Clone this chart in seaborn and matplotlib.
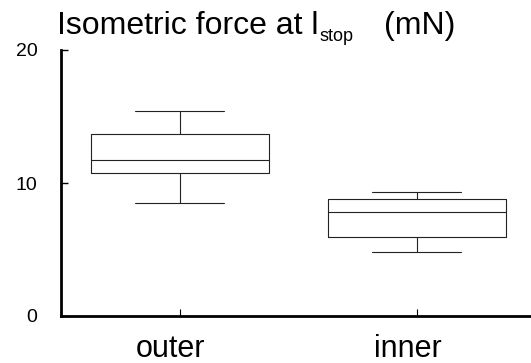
import numpy as np
import pandas as pd
import matplotlib
matplotlib.use("Agg")
import matplotlib.pyplot as plt
import matplotlib.transforms as mtransforms
import seaborn as sns

# values: low whisker, Q1, median, Q3, high whisker
groups = ["outer", "inner"]
outer_force = [8.47, 10.73, 11.73, 13.66, 15.44]
inner_force = [4.79, 5.92, 7.79, 8.77, 9.29]
y_ticks = [0, 10, 20]

df = pd.DataFrame({
    "group": ["outer"] * len(outer_force) + ["inner"] * len(inner_force),
    "force": outer_force + inner_force,
})

sns.set_style("ticks")
plt.rcParams["font.family"] = ["Liberation Sans", "DejaVu Sans"]
plt.rcParams["text.color"] = "black"
plt.rcParams["xtick.color"] = "black"
plt.rcParams["ytick.color"] = "black"

W, H = 531, 363
fig = plt.figure(figsize=(W / 100, H / 100), dpi=100)
ax = fig.add_axes([61 / W, 47 / H, 474.5 / W, 266 / H])

sns.boxplot(data=df, x="group", y="force", order=groups, width=0.75,
            fill=False, color="#222222", linewidth=0.8, ax=ax)

ax.set_ylim(0, 20)
ax.set_xlim(-0.5, 1.5)
ax.set_yticks(y_ticks)
ax.set_xlabel("")
ax.set_ylabel("")

for side in ["top", "right"]:
    ax.spines[side].set_visible(False)
for side in ["left", "bottom"]:
    ax.spines[side].set_linewidth(2)
    ax.spines[side].set_color("black")

ax.tick_params(axis="y", direction="in", length=5, width=1, labelsize=14, pad=17)
ax.tick_params(axis="x", direction="in", length=5, width=0.8, labelsize=22, pad=13)

# x labels sit a little left of their ticks in the reference
shift = mtransforms.ScaledTranslation(-9 / 100, 0, fig.dpi_scale_trans)
for lab in ax.get_xticklabels():
    lab.set_transform(lab.get_transform() + shift)

# title with subscript
fig.text(57 / W, 1 - 34.3 / H, "Isometric force at l", fontsize=23, va="baseline")
fig.text(319 / W, 1 - 41 / H, "stop", fontsize=13, va="baseline")
fig.text(384 / W, 1 - 34.3 / H, "(mN)", fontsize=23, va="baseline")

fig.savefig("out.png", dpi=100)
